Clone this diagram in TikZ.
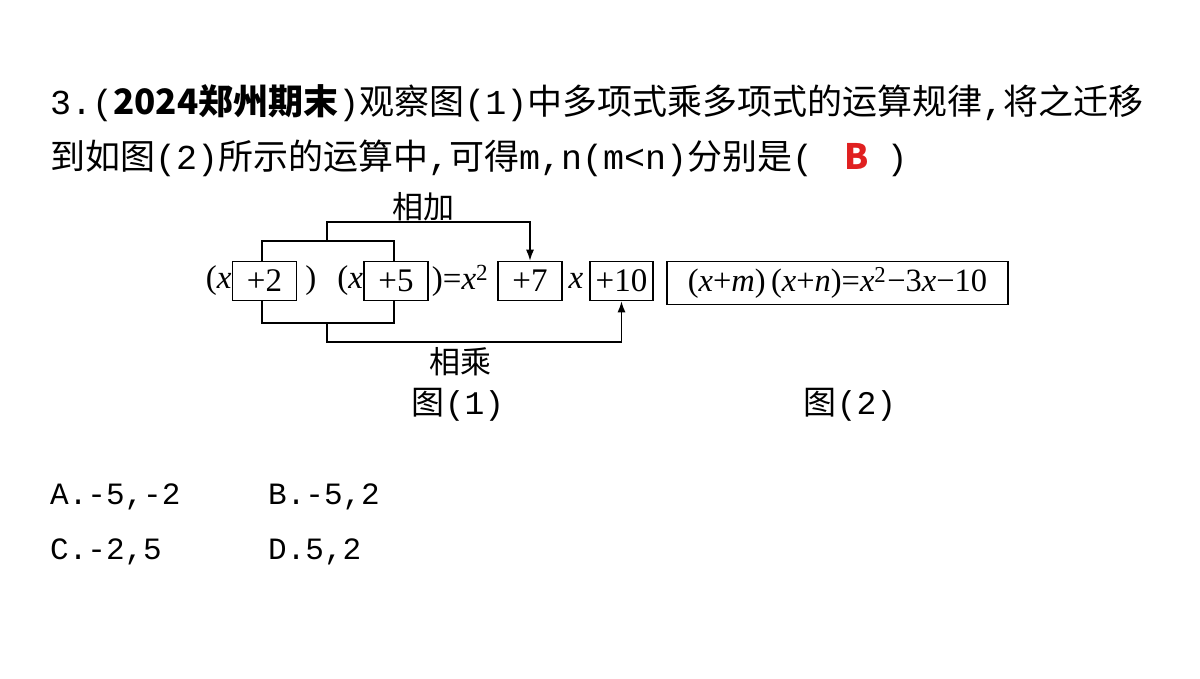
\documentclass[tikz,border=0pt]{standalone}
\usepackage{fontspec}
\setmainfont{Liberation Serif}
\newfontfamily\cjk{Noto Sans CJK SC}
\newfontfamily\mono{Liberation Mono}
\newcommand{\m}[1]{{\mono #1}}
\usetikzlibrary{arrows.meta}
\begin{document}
\begin{tikzpicture}[x=1pt,y=-1pt,
  bx/.style={draw,line width=1.5pt,minimum width=64pt,minimum height=39pt,inner sep=0pt,font=\fontsize{33}{33}\selectfont},
  tx/.style={inner sep=0pt,font=\fontsize{33}{33}\selectfont},
  q/.style={inner sep=0pt,anchor=west,font=\cjk\fontsize{35}{35}\selectfont},
  o/.style={inner sep=0pt,anchor=west,font=\mono\fontsize{31}{31}\selectfont},
  ln/.style={line width=1.5pt},
  ar/.style={line width=1.5pt,-{Latex[length=11pt,width=8pt]}}]
\useasboundingbox (0,0) rectangle (1200,679);
\node[q] (l1) at (50,103) {\m{3.(}\textbf{2024郑州期末}\m{)}观察图\m{(1)}中多项式乘多项式的运算规律\m{,}将之迁移};
\node[q] (l2) at (50,158) {到如图\m{(2)}所示的运算中\m{,}可得\m{m,n(m<n)}分别是\m{(}\hspace{0.9em}\textcolor[HTML]{E02020}{\textbf{B}}\hspace{0.5em}\m{)}};
\node[bx] (b2) at (264.5,281) {+2};
\node[bx] (b5) at (396,281) {+5};
\node[bx] (b7) at (530,281) {+7};
\node[bx,minimum width=63pt] (b10) at (621.5,281) {+10};
\node[bx,minimum width=341pt,minimum height=43pt,font=\fontsize{32.5}{32.5}\selectfont] (f2) at (837.5,283) {(\textit{x}+\textit{m})\,(\textit{x}+\textit{n})=\textit{x}\textsuperscript{2}\kern1pt−3\textit{x}−10};
\node[tx,anchor=east] (t1) at (b2.west) {(\textit{x}};
\node[tx,anchor=west] (t2) at ([xshift=8pt]b2.east) {)};
\node[tx,anchor=east] (t3) at (b5.west) {(\textit{x}};
\node[tx,anchor=west] (t4) at ([xshift=3pt]b5.east) {)=\textit{x}\textsuperscript{2}};
\node[tx] (t5) at (576,281) {\textit{x}};
\coordinate (ta) at (262,241); \coordinate (tb) at (394,241);
\coordinate (tc) at (327,241); \coordinate (td) at (327,222); \coordinate (te) at (530,222);
\draw[ln] (b2.north -| ta) -- (ta) -- (tb) -- (b5.north -| tb);
\draw[ar] (tc) -- (td) -- (te) -- (b7.north);
\coordinate (ba) at (262,323); \coordinate (bb) at (394,323);
\coordinate (bc) at (327,323); \coordinate (bd) at (327,342); \coordinate (be) at (621.5,342);
\draw[ln] (b2.south -| ba) -- (ba) -- (bb) -- (b5.south -| bb);
\draw[ar] (bc) -- (bd) -- (be) -- (b10.south);
\node[q,anchor=center,font=\cjk\fontsize{31}{31}\selectfont] (add) at (423,207) {相加};
\node[q,anchor=center,font=\cjk\fontsize{31}{31}\selectfont] (mul) at (460,362) {相乘};
\node[q,anchor=center,font=\cjk\fontsize{33}{33}\selectfont] (c1) at (458,405) {图\m{(1)}};
\node[q,anchor=center,font=\cjk\fontsize{33}{33}\selectfont] (c2) at (850,405) {图\m{(2)}};
\node[o] (oa) at (50,497) {A.-5,-2};
\node[o] (ob) at (268,497) {B.-5,2};
\node[o] (oc) at (50,552) {C.-2,5};
\node[o] (od) at (268,552) {D.5,2};
\end{tikzpicture}
\end{document}
